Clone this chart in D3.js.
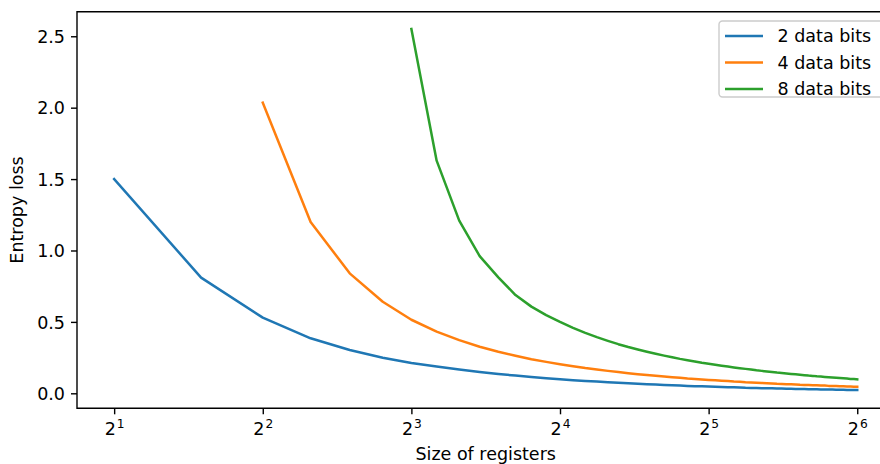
<!DOCTYPE html>
<html>
<head>
<meta charset="utf-8">
<script src="https://cdn.jsdelivr.net/npm/d3@7"></script>
<style>
  body { margin: 0; background: #fff; }
  text { font-family: "DejaVu Sans", sans-serif; fill: #000; }
</style>
</head>
<body>
<div id="chart"></div>
<script>
// register sizes on the x axis (log2 scale)
const registerSizes = [
  2, 3, 4, 5, 6, 7, 8, 9,
  10, 11, 12, 13, 14, 15, 16, 17,
  18, 19, 20, 21, 22, 23, 24, 25,
  26, 27, 28, 29, 30, 31, 32, 33,
  34, 35, 36, 37, 38, 39, 40, 41,
  42, 43, 44, 45, 46, 47, 48, 49,
  50, 51, 52, 53, 54, 55, 56, 57,
  58, 59, 60, 61, 62, 63, 64
];

// entropy loss (null = no point for that size)
const loss2 = [
  1.50, 0.81, 0.53, 0.385, 0.303, 0.249, 0.212, 0.187,
  0.166, 0.149, 0.135, 0.124, 0.114, 0.106, 0.099, 0.092,
  0.087, 0.082, 0.078, 0.074, 0.070, 0.067, 0.064, 0.061,
  0.059, 0.056, 0.054, 0.052, 0.050, 0.049, 0.047, 0.046,
  0.044, 0.043, 0.042, 0.041, 0.039, 0.038, 0.037, 0.036,
  0.036, 0.035, 0.034, 0.033, 0.032, 0.032, 0.031, 0.030,
  0.030, 0.029, 0.029, 0.028, 0.027, 0.027, 0.026, 0.026,
  0.025, 0.025, 0.025, 0.024, 0.024, 0.023, 0.023
];
const loss4 = [
  null, null, 2.035, 1.20, 0.84, 0.641, 0.515, 0.432,
  0.372, 0.326, 0.291, 0.263, 0.239, 0.220, 0.204, 0.190,
  0.177, 0.167, 0.157, 0.149, 0.141, 0.134, 0.128, 0.123,
  0.118, 0.113, 0.109, 0.104, 0.101, 0.097, 0.094, 0.091,
  0.088, 0.086, 0.083, 0.081, 0.078, 0.076, 0.074, 0.072,
  0.071, 0.069, 0.067, 0.066, 0.064, 0.063, 0.062, 0.060,
  0.059, 0.058, 0.057, 0.056, 0.054, 0.054, 0.052, 0.052,
  0.051, 0.050, 0.049, 0.048, 0.047, 0.046, 0.046
];
const loss8 = [
  null, null, null, null, null, null, 2.551, 1.629,
  1.209, 0.961, 0.812, 0.688, 0.607, 0.548, 0.500, 0.458,
  0.423, 0.393, 0.367, 0.344, 0.324, 0.307, 0.291, 0.277,
  0.264, 0.252, 0.241, 0.232, 0.223, 0.214, 0.207, 0.200,
  0.193, 0.187, 0.181, 0.176, 0.171, 0.166, 0.161, 0.157,
  0.153, 0.149, 0.145, 0.142, 0.139, 0.136, 0.133, 0.130,
  0.127, 0.124, 0.122, 0.119, 0.117, 0.115, 0.113, 0.111,
  0.109, 0.107, 0.105, 0.103, 0.101, 0.100, 0.098
];

const seriesNames = ["2 data bits", "4 data bits", "8 data bits"];
const seriesColors = ["#1f77b4", "#ff7f0e", "#2ca02c"];
const xTicks = [2, 4, 8, 16, 32, 64];
const yTicks = [0, 0.5, 1.0, 1.5, 2.0, 2.5];

const width = 880, height = 464;
const fontSize = 17.5;
// plot frame; the right edge runs past the picture like in the original
const frame = { left: 77, top: 11.7, right: 894.4, bottom: 408.3 };

let svg = d3.select("#chart")
  .append("svg")
  .attr("width", width)
  .attr("height", height);

svg.append("rect")
  .attr("width", width)
  .attr("height", height)
  .attr("fill", "#fff");

let x = d3.scaleLog()
  .base(2)
  .domain([Math.pow(2, 0.75), Math.pow(2, 6.25)])
  .range([frame.left, frame.right]);

let y = d3.scaleLinear()
  .domain([-0.105, 2.672])
  .range([frame.bottom, frame.top]);

// lines
let series = [loss2, loss4, loss8].map((vals, i) => ({
  name: seriesNames[i],
  color: seriesColors[i],
  points: registerSizes.map((s, j) => ({ size: s, value: vals[j] }))
}));

let line = d3.line()
  .defined(d => d.value !== null)
  .x(d => x(d.size))
  .y(d => y(d.value));

svg.append("g")
  .selectAll("path")
  .data(series)
  .enter()
  .append("path")
  .attr("d", d => line(d.points))
  .attr("fill", "none")
  .attr("stroke", d => d.color)
  .attr("stroke-width", 2.5)
  .attr("stroke-linejoin", "round")
  .attr("stroke-linecap", "square");

// x axis
let xAxis = svg.append("g")
  .attr("transform", `translate(0,${frame.bottom})`)
  .call(d3.axisBottom(x).tickValues(xTicks).tickSize(6).tickSizeOuter(0).tickPadding(7));

xAxis.select(".domain").remove();
xAxis.selectAll(".tick line").attr("stroke", "#000").attr("stroke-width", 1.4);
xAxis.selectAll(".tick text").each(function (d) {
  let t = d3.select(this);
  // base "2" sits on a baseline ~27px under the frame, exponent raised
  t.text(null)
    .attr("font-size", fontSize)
    .attr("font-family", "DejaVu Sans")
    .attr("dy", 13.7);
  t.append("tspan").text("2");
  t.append("tspan")
    .attr("font-size", fontSize * 0.7)
    .attr("dx", 1)
    .attr("dy", -6.7)
    .text(Math.round(Math.log2(d)));
});

// y axis
let yAxis = svg.append("g")
  .attr("transform", `translate(${frame.left},0)`)
  .call(d3.axisLeft(y).tickValues(yTicks).tickSize(6).tickSizeOuter(0).tickPadding(6)
    .tickFormat(d3.format(".1f")));

yAxis.select(".domain").remove();
yAxis.selectAll(".tick line").attr("stroke", "#000").attr("stroke-width", 1.4);
yAxis.selectAll(".tick text")
  .attr("font-size", fontSize)
  .attr("font-family", "DejaVu Sans")
  .attr("dy", "0.36em");

// spines
svg.append("path")
  .attr("d", `M${frame.right},${frame.top}H${frame.left}V${frame.bottom}H${frame.right}`)
  .attr("fill", "none")
  .attr("stroke", "#000")
  .attr("stroke-width", 1.4);

// axis titles
svg.append("text")
  .attr("x", (frame.left + frame.right) / 2)
  .attr("y", 460)
  .attr("text-anchor", "middle")
  .attr("font-size", fontSize)
  .text("Size of registers");

svg.append("text")
  .attr("transform", `translate(23,${(frame.top + frame.bottom) / 2}) rotate(-90)`)
  .attr("text-anchor", "middle")
  .attr("font-size", fontSize)
  .text("Entropy loss");

// legend
let legend = svg.append("g");
legend.append("rect")
  .attr("x", 719)
  .attr("y", 21)
  .attr("width", 166)
  .attr("height", 76)
  .attr("rx", 3.5)
  .attr("fill", "#fff")
  .attr("fill-opacity", 0.8)
  .attr("stroke", "#cccccc")
  .attr("stroke-width", 1.4);

let items = legend.selectAll("g.item")
  .data(series)
  .enter()
  .append("g")
  .attr("class", "item")
  .attr("transform", (d, i) => `translate(0,${36 + i * 26.5})`);

items.append("line")
  .attr("x1", 725)
  .attr("x2", 763)
  .attr("stroke", d => d.color)
  .attr("stroke-width", 2.5);

items.append("text")
  .attr("x", 777.5)
  .attr("dy", "0.36em")
  .attr("font-size", fontSize)
  .text(d => d.name);
</script>
</body>
</html>
